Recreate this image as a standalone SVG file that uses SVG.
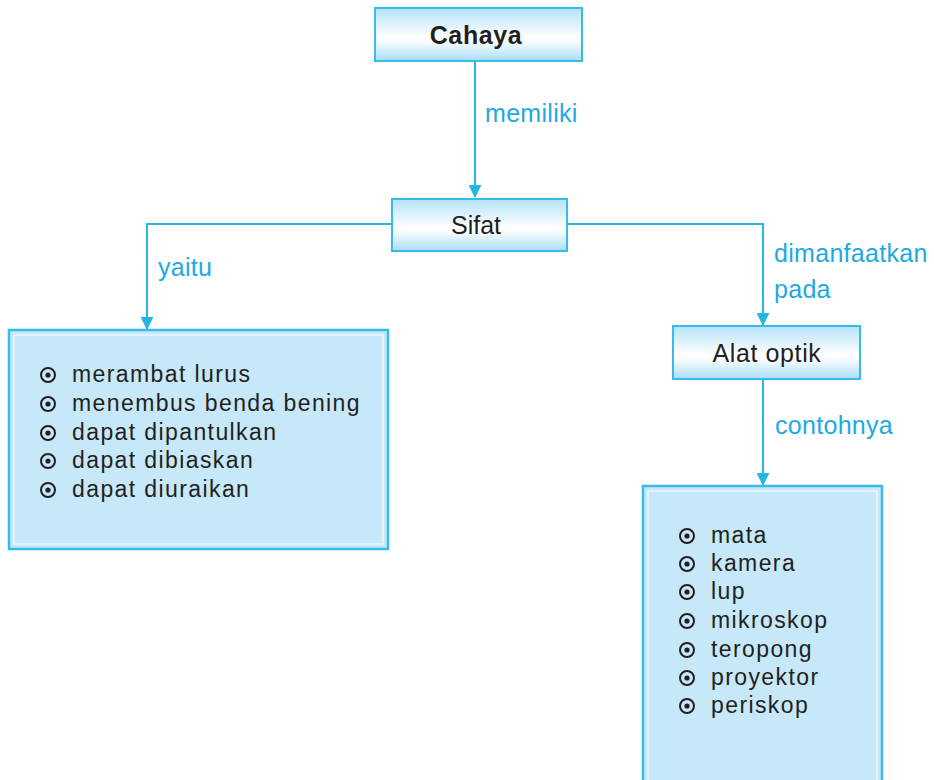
<svg xmlns="http://www.w3.org/2000/svg" width="934" height="780" viewBox="0 0 934 780">
<style>
.conn{fill:none;stroke:#2ab4e6;stroke-width:2}
.sbox{fill:url(#g);stroke:#36bbea;stroke-width:2}
.bbox{fill:#c7e8f8;stroke:#36bbea;stroke-width:2.5}
.inner{fill:none;stroke:#eaf7fd;stroke-width:1.5}
.lbl{font-family:"Liberation Sans",Arial,sans-serif;font-size:25px;fill:#1ea9e1;letter-spacing:0.3px}
.ttl{font-family:"Liberation Sans",Arial,sans-serif;font-size:25px;fill:#231f20;text-anchor:middle}
.item{font-family:"Liberation Sans",Arial,sans-serif;font-size:23px;fill:#231f20;letter-spacing:1.4px}
.bul{fill:none;stroke:#231f20;stroke-width:2}
.dot{fill:#231f20}
</style>
<defs>
<linearGradient id="g" x1="0" y1="0" x2="0" y2="1">
<stop offset="0" stop-color="#b3e2f7"/>
<stop offset="0.55" stop-color="#ffffff"/>
<stop offset="0.65" stop-color="#f4fbfe"/>
<stop offset="1" stop-color="#a9ddf5"/>
</linearGradient>
<marker id="ar" viewBox="0 0 12 12" refX="11" refY="6" markerWidth="13" markerHeight="13" markerUnits="userSpaceOnUse" orient="auto">
<path d="M0,0 L12,6 L0,12 Z" fill="#2ab4e6"/>
</marker>
<g id="b">
<circle cx="0" cy="0" r="7" class="bul"/>
<circle cx="0" cy="0" r="2.6" class="dot"/>
</g>
</defs>
<g id="connectors">
<path class="conn" d="M475,61 V197" marker-end="url(#ar)"/>
<path class="conn" d="M392,224 H147 V329" marker-end="url(#ar)"/>
<path class="conn" d="M567,224 H763 V325" marker-end="url(#ar)"/>
<path class="conn" d="M763,379 V485" marker-end="url(#ar)"/>
<text class="lbl" x="485" y="122">memiliki</text>
<text class="lbl" x="158" y="276">yaitu</text>
<text class="lbl" x="774" y="262">dimanfaatkan</text>
<text class="lbl" x="774" y="298">pada</text>
<text class="lbl" x="775" y="434">contohnya</text>
</g>
<g id="cahaya">
<rect class="sbox" x="375" y="8" width="207" height="53"/>
<text class="ttl" x="476" y="44" font-weight="bold" font-size="26" letter-spacing="0.6">Cahaya</text>
</g>
<g id="sifat">
<rect class="sbox" x="392" y="199" width="175" height="52"/>
<text class="ttl" x="476" y="234">Sifat</text>
</g>
<g id="alat-optik">
<rect class="sbox" x="673" y="326" width="187" height="53"/>
<text class="ttl" x="767" y="362" letter-spacing="0.6">Alat optik</text>
</g>
<g id="sifat-list">
<rect class="bbox" x="9" y="330" width="379" height="219"/>
<rect class="inner" x="14" y="335" width="369" height="209"/>
<use href="#b" x="48" y="375"/><text class="item" x="72" y="382">merambat lurus</text>
<use href="#b" x="48" y="404"/><text class="item" x="72" y="411">menembus benda bening</text>
<use href="#b" x="48" y="433"/><text class="item" x="72" y="440">dapat dipantulkan</text>
<use href="#b" x="48" y="461"/><text class="item" x="72" y="468">dapat dibiaskan</text>
<use href="#b" x="48" y="490"/><text class="item" x="72" y="497">dapat diuraikan</text>
</g>
<g id="alat-list">
<rect class="bbox" x="643" y="486" width="239" height="310"/>
<rect class="inner" x="648" y="491" width="229" height="300"/>
<use href="#b" x="687" y="536"/><text class="item" x="711" y="543">mata</text>
<use href="#b" x="687" y="564"/><text class="item" x="711" y="571">kamera</text>
<use href="#b" x="687" y="592"/><text class="item" x="711" y="599">lup</text>
<use href="#b" x="687" y="621"/><text class="item" x="711" y="628">mikroskop</text>
<use href="#b" x="687" y="650"/><text class="item" x="711" y="657">teropong</text>
<use href="#b" x="687" y="678"/><text class="item" x="711" y="685">proyektor</text>
<use href="#b" x="687" y="706"/><text class="item" x="711" y="713">periskop</text>
</g>
</svg>
